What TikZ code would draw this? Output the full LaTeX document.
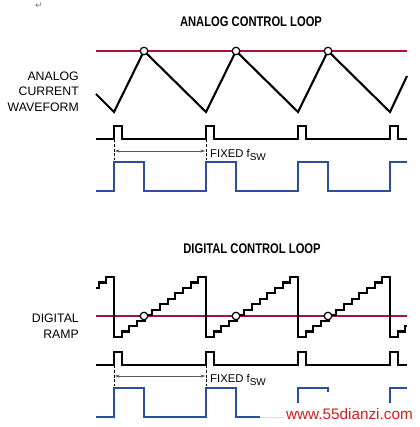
\documentclass[tikz,border=0pt]{standalone}
\usepackage{fontspec}
\setmainfont{Liberation Sans}
\newfontfamily\dejavu{DejaVu Sans}
\usetikzlibrary{arrows.meta}
\definecolor{redline}{RGB}{160,22,52}
\definecolor{bluewave}{RGB}{44,78,160}
\definecolor{wmred}{RGB}{210,30,30}
\tikzset{
  wave/.style={line width=2.1pt, black, line join=miter},
  refline/.style={line width=2.1pt, redline},
  bluew/.style={line width=2.1pt, bluewave},
  cross/.style={circle, draw=black, fill=white, line width=1.2pt, minimum size=7.5pt, inner sep=0pt},
  dashv/.style={line width=0.6pt, black, dash pattern=on 3pt off 1.8pt},
  period/.style={line width=0.5pt, black!65, {Stealth[length=5pt,width=3pt]}-{Stealth[length=5pt,width=3pt]}},
  title/.style={font=\fontsize{14}{14}\selectfont\bfseries, inner sep=0pt},
  side/.style={font=\fontsize{12.3}{15.6}\selectfont, align=right, anchor=east, inner sep=0pt},
  fixed/.style={font=\fontsize{11.3}{11.3}\selectfont, anchor=west, inner sep=0pt}
}
\begin{document}
\begin{tikzpicture}[x=1pt,y=-1pt]
\useasboundingbox (0,0) rectangle (419,427);

% stray return mark
\node[font=\dejavu\fontsize{9}{9}\selectfont, text=black!55, inner sep=0pt] (ret) at (39,6) {↵};

% ===== ANALOG =====
\node[title] (t1) at (251,22) {\scalebox{0.8}[1]{ANALOG CONTROL LOOP}};
\node[side] (l1) at (79,91.5) {ANALOG\\CURRENT\\WAVEFORM};

\draw[refline] (96,51) -- (407,51);
\draw[wave] (96,94) -- (114,112) -- (144,51) -- (206,112) -- (236,51) -- (298,112) -- (328,51) -- (390,112) -- (407,76);
\node[cross] (a1) at (144,51) {};
\node[cross] (a2) at (236,51) {};
\node[cross] (a3) at (328,51) {};

% clock pulses
\draw[wave] (96,139)
  \foreach \s in {114,206,298,390} { -- (\s,139) -- (\s,126) -- (\s+8,126) -- (\s+8,139) } -- (407,139);

\coordinate (ad1t) at (114,139); \coordinate (ad1b) at (114,160);
\coordinate (ad2t) at (206,139); \coordinate (ad2b) at (206,160);
\draw[dashv] (ad1t) -- (ad1b);
\draw[dashv] (ad2t) -- (ad2b);
\coordinate (aa1) at (114.6,151); \coordinate (aa2) at (205.4,151);
\draw[period] (aa1) -- (aa2);
\node[fixed] (f1) at (210,155) {FIXED f\raisebox{-3pt}{\fontsize{10}{10}\selectfont SW}};

\draw[bluew] (96,191) -| (114,162) -| (144,191) -| (206,162) -| (236,191) -| (298,162) -| (328,191) -| (390,162) -- (407,162);

% ===== DIGITAL =====
\node[title] (t2) at (252,249) {\scalebox{0.8}[1]{DIGITAL CONTROL LOOP}};
\node[side] (l2) at (79,326) {DIGITAL\\RAMP};

\draw[refline] (96,316) -- (407,316);
\draw[wave] (96,287.9) -- (98.67,287.9) -- (98.67,282.45) -- (106.33,282.45) -- (106.33,277) -- (114,277) -- (114,337)
  \foreach \p in {0,1,2} { \foreach \k in {1,...,11} { -- ++(7.6667,0) -- ++(0,-5.4545) } -- ++(7.6667,0) -- ++(0,60) }
  -- ++(7.6667,0) -- ++(0,-5.4545) -- ++(7.6667,0) -- ++(0,-5.4545) -- ++(1.67,0);
\node[cross] (d1) at (144,316) {};
\node[cross] (d2) at (236,316) {};
\node[cross] (d3) at (328,316) {};

\draw[wave] (96,365)
  \foreach \s in {114,206,298,390} { -- (\s,365) -- (\s,352) -- (\s+8,352) -- (\s+8,365) } -- (407,365);

\coordinate (dd1t) at (114,365); \coordinate (dd1b) at (114,386);
\coordinate (dd2t) at (206,365); \coordinate (dd2b) at (206,386);
\draw[dashv] (dd1t) -- (dd1b);
\draw[dashv] (dd2t) -- (dd2b);
\coordinate (da1) at (114.6,376); \coordinate (da2) at (205.4,376);
\draw[period] (da1) -- (da2);
\node[fixed] (f2) at (210,380) {FIXED f\raisebox{-3pt}{\fontsize{10}{10}\selectfont SW}};

\draw[bluew] (96,417) -| (114,388) -| (144,417) -| (206,388) -| (236,417) -- (260,417);
\draw[line width=0.8pt, black!15] (260,417) -- (284,417);
\draw[bluew] (298,403) -- (298,388) -- (328,388) -- (328,392);
\draw[bluew] (390,403) -- (390,388) -- (407,388);

% watermark
\node[font=\fontsize{15.3}{15.3}\selectfont, text=wmred, inner sep=0pt, anchor=east] (wm) at (413,414) {www.55dianzi.com};
\end{tikzpicture}
\end{document}
